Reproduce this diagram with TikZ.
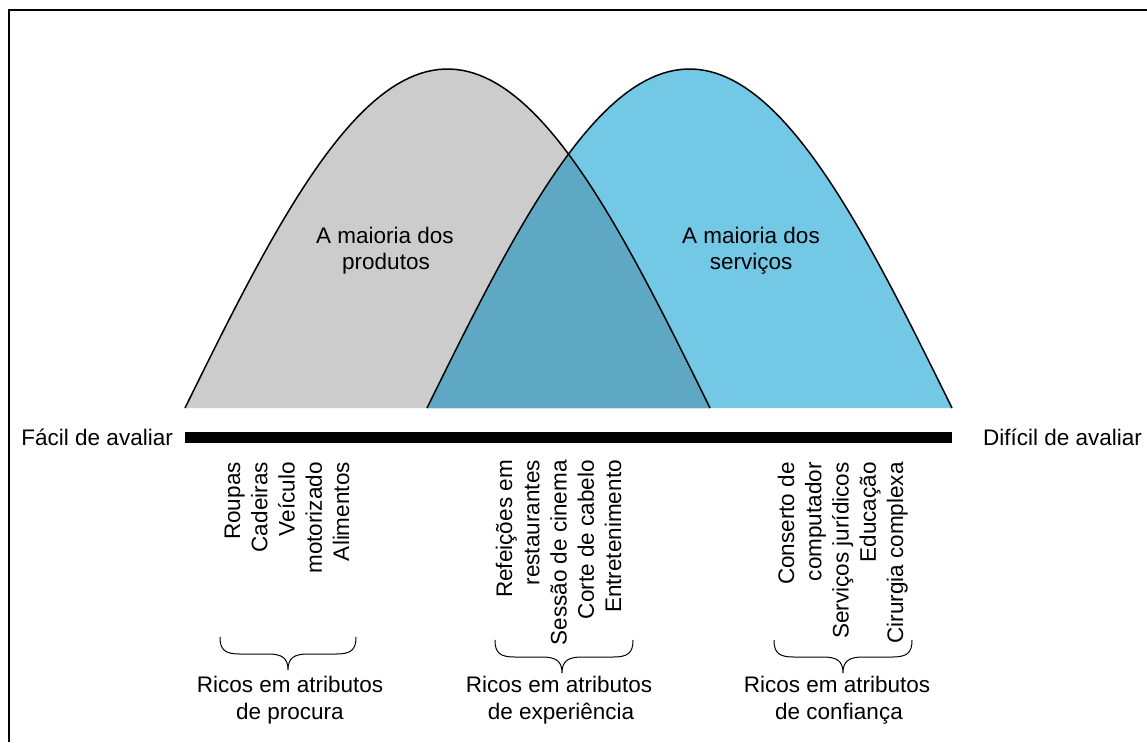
\documentclass[tikz,border=0pt]{standalone}
\usepackage{fontspec}
\setmainfont{Liberation Sans}
\definecolor{prodgray}{RGB}{204,204,204}
\definecolor{servblue}{RGB}{115,200,230}
\definecolor{overlapc}{RGB}{95,168,195}
\begin{document}
\begin{tikzpicture}[x=1pt,y=-1pt,
  lbl/.style={inner sep=0pt, font=\fontsize{22.5}{27}\selectfont},
  vlab/.style={lbl, rotate=90, anchor=base east},
  hlab/.style={lbl, anchor=base},
  curveline/.style={line width=1.5pt, black},
  bracepath/.style={line width=1pt, black}]
\useasboundingbox (0,0) rectangle (1147,742);
\fill[white] (0,0) rectangle (1147,742);
% frame
\draw[line width=2pt] (9,742) -- (9,10) -- (1147,10);
% fills
\fill[prodgray] plot[domain=0:180, samples=90] ({185+2.9166667*\x},{408-339*sin(\x)}) -- cycle;
\fill[servblue] plot[domain=0:180, samples=90] ({427+2.9166667*\x},{408-339*sin(\x)}) -- cycle;
\begin{scope}
  \clip plot[domain=0:180, samples=90] ({185+2.9166667*\x},{408-339*sin(\x)}) -- cycle;
  \fill[overlapc] plot[domain=0:180, samples=90] ({427+2.9166667*\x},{408-339*sin(\x)}) -- cycle;
\end{scope}
% outlines
\draw[curveline] plot[domain=0:180, samples=90] ({185+2.9166667*\x},{408-339*sin(\x)});
\draw[curveline] plot[domain=0:180, samples=90] ({427+2.9166667*\x},{408-339*sin(\x)});
% curve labels
\node[hlab] (p1) at (385,243) {A maioria dos};
\node[hlab] (p2) at (386,269) {produtos};
\node[hlab] (s1) at (751,243) {A maioria dos};
\node[hlab] (s2) at (751,269) {serviços};
% axis
\coordinate (axl) at (185,437);
\coordinate (axr) at (952,437);
\draw[line width=11pt] (axl) -- (axr);
\node[lbl, anchor=base east] (easy) at (173,445) {Fácil de avaliar};
\node[lbl, anchor=base west] (hard) at (983,445) {Difícil de avaliar};
% vertical lists
\foreach \t [count=\i] in {Roupas,Cadeiras,Veículo,motorizado,Alimentos}
  \node[vlab] (a\i) at ({240+27.3*(\i-1)},462) {\t};
\foreach \t [count=\i] in {Refeições em,restaurantes,Sessão de cinema,Corte de cabelo,Entretenimento}
  \node[vlab] (b\i) at ({512+27.3*(\i-1)},460) {\t};
\foreach \t [count=\i] in {Conserto de,computador,Serviços jurídicos,Educação,Cirurgia complexa}
  \node[vlab] (c\i) at ({794+27.3*(\i-1)},462) {\t};
% braces
\draw[bracepath] (220,637) .. controls (220,650) and (225,654) .. (240,654) -- (268,654)
  .. controls (282,654) and (288,658) .. (288,670)
  .. controls (288,658) and (294,654) .. (308,654) -- (336,654)
  .. controls (351,654) and (356,650) .. (356,637);
\draw[bracepath] (495,640) .. controls (495,653) and (500,657) .. (515,657) -- (542,657)
  .. controls (556,657) and (562,661) .. (562,673)
  .. controls (562,661) and (568,657) .. (582,657) -- (613,657)
  .. controls (628,657) and (633,653) .. (633,640);
\draw[bracepath] (774,640) .. controls (774,653) and (779,657) .. (794,657) -- (823,657)
  .. controls (837,657) and (843,661) .. (843,673)
  .. controls (843,661) and (849,657) .. (863,657) -- (892,657)
  .. controls (907,657) and (912,653) .. (912,640);
% group captions
\node[hlab] (r1) at (290,692) {Ricos em atributos};
\node[hlab] (r2) at (290,719) {de procura};
\node[hlab] (e1) at (559,692) {Ricos em atributos};
\node[hlab] (e2) at (561,719) {de experiência};
\node[hlab] (t1) at (837,692) {Ricos em atributos};
\node[hlab] (t2) at (839,719) {de confiança};
\end{tikzpicture}
\end{document}
